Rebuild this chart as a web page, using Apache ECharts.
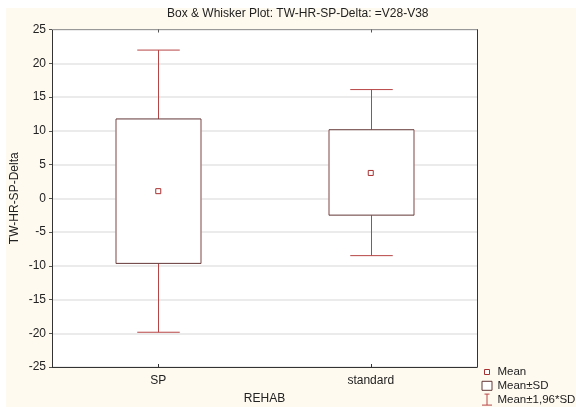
<!DOCTYPE html>
<html>
<head>
<meta charset="utf-8">
<script src="https://cdn.jsdelivr.net/npm/echarts@6/dist/echarts.min.js"></script>
<style>
html,body{margin:0;padding:0;background:#fff;}
#wrap{position:relative;width:576px;height:407px;background:#fff;overflow:hidden;}
#bg{position:absolute;left:6px;top:8px;right:0;bottom:0;background:#fffaf0;}
#chart{position:absolute;left:0;top:0;width:576px;height:407px;}
</style>
</head>
<body>
<div id="wrap"><div id="bg"></div><div id="chart"></div></div>
<script>
var titleText = 'Box & Whisker Plot: TW-HR-SP-Delta: =V28-V38';
var categories = ['SP', 'standard'];
var means = [1.05, 3.75];
var sdLow = [-9.65, -2.5];
var sdHigh = [11.75, 10.15];
var ciLow = [-19.85, -8.5];
var ciHigh = [21.95, 16.1];
var legendNames = ['Mean', 'Mean±SD', 'Mean±1,96*SD'];
var yTicks = { min: -25, max: 25, interval: 5 };

var FONT = "'Liberation Sans', Arial, sans-serif";
var whiskerRows = categories.map(function (c, i) { return [i, ciLow[i], ciHigh[i], sdLow[i], sdHigh[i]]; });
var boxRows = categories.map(function (c, i) { return [i, sdLow[i], sdHigh[i]]; });
var meanRows = categories.map(function (c, i) { return [i, means[i]]; });

var WHISK = '#b84545';
var BOXDARK = '#633636';
var BOXSIDE = '#ae8a8a';

var chart = echarts.init(document.getElementById('chart'), null, { renderer: 'canvas' });
chart.setOption({
  animation: false,
  textStyle: { fontFamily: FONT },
  title: {
    text: titleText, left: 167, top: 8, padding: 0,
    textStyle: { fontSize: 12, fontWeight: 'normal', color: '#222', fontFamily: FONT }
  },
  grid: { left: 52, top: 29.5, right: 99, bottom: 40, show: true, backgroundColor: '#fff', borderWidth: 0,
          containLabel: false, outerBoundsMode: 'none' },
  legend: {
    orient: 'vertical', left: 481, top: 365.5, padding: 0,
    itemWidth: 11, itemHeight: 12, itemGap: 0.8,
    selectedMode: false,
    textStyle: { fontSize: 11.5, color: '#222', fontFamily: FONT, lineHeight: 12 },
    data: [
      { name: legendNames[0], icon: 'path://M0,0L0,0M11,12L11,12M3,3.5h5v5h-5z',
        itemStyle: { color: '#fff', borderColor: '#a83030', borderWidth: 1 } },
      { name: legendNames[1], icon: 'path://M0,0L0,0M11,12L11,12M0.5,1.5h10v9h-10z',
        itemStyle: { color: '#fff', borderColor: BOXDARK, borderWidth: 1 } },
      { name: legendNames[2], icon: 'path://M0,0L0,0M11,12L11,12M3,0.5H8M5.5,0.5V11.5M0.5,11.5H10.5',
        itemStyle: { color: 'rgba(0,0,0,0)', borderColor: WHISK, borderWidth: 1 } }
    ]
  },
  xAxis: [{
    type: 'category', data: categories, position: 'bottom',
    axisLine: { onZero: false, lineStyle: { color: '#333', width: 1 } },
    axisTick: { show: true, inside: true, alignWithLabel: true, length: 3, lineStyle: { color: '#333' } },
    axisLabel: { fontSize: 12, color: '#222', margin: 8, fontFamily: FONT },
    splitLine: { show: false },
    name: 'REHAB', nameLocation: 'middle', nameGap: 26, nameMoveOverlap: false,
    nameTextStyle: { fontSize: 12, color: '#222', fontFamily: FONT }
  }, {
    type: 'category', data: categories, position: 'top',
    axisLine: { onZero: false, lineStyle: { color: '#999', width: 1 } },
    axisTick: { show: true, inside: true, alignWithLabel: true, length: 3, lineStyle: { color: '#555' } },
    axisLabel: { show: false }, splitLine: { show: false }
  }],
  yAxis: [{
    type: 'value', min: yTicks.min, max: yTicks.max, interval: yTicks.interval,
    axisLine: { show: true, onZero: false, lineStyle: { color: '#333', width: 1 } },
    axisTick: { show: true, length: 3, lineStyle: { color: '#555' } },
    axisLabel: { fontSize: 12, color: '#222', margin: 6, fontFamily: FONT },
    splitLine: { show: true, lineStyle: { color: '#e4e4e4', width: 1.5 } },
    name: 'TW-HR-SP-Delta', nameLocation: 'middle', nameGap: 31, nameRotate: 90, nameMoveOverlap: false,
    nameTextStyle: { fontSize: 12, color: '#222', fontFamily: FONT }
  }, {
    type: 'value', min: yTicks.min, max: yTicks.max, interval: yTicks.interval, position: 'right',
    axisLine: { show: true, onZero: false, lineStyle: { color: '#333', width: 1 } },
    axisTick: { show: false }, axisLabel: { show: false }, splitLine: { show: false }
  }],
  series: [{
    name: legendNames[2], type: 'custom', data: whiskerRows,
    encode: { x: 0, y: [1, 2, 3, 4] },
    renderItem: function (params, api) {
      var i = api.value(0);
      var bw = api.size([1, 0])[0];
      var half = bw * 0.1;
      var pHi = api.coord([i, api.value(2)]);
      var pSdHi = api.coord([i, api.value(4)]);
      var pLo = api.coord([i, api.value(1)]);
      var pSdLo = api.coord([i, api.value(3)]);
      var x = Math.round(pHi[0]) + 0.5;
      var st = { stroke: WHISK, lineWidth: 1, fill: null };
      return { type: 'group', children: [
        { type: 'line', shape: { x1: x, y1: pHi[1], x2: x, y2: pSdHi[1] }, style: st },
        { type: 'line', shape: { x1: x, y1: pSdLo[1], x2: x, y2: pLo[1] }, style: st },
        { type: 'line', shape: { x1: x - half, y1: pHi[1], x2: x + half, y2: pHi[1] }, style: st },
        { type: 'line', shape: { x1: x - half, y1: pLo[1], x2: x + half, y2: pLo[1] }, style: st }
      ] };
    }
  }, {
    name: legendNames[1], type: 'custom', data: boxRows,
    encode: { x: 0, y: [1, 2] },
    renderItem: function (params, api) {
      var i = api.value(0);
      var bw = api.size([1, 0])[0];
      var half = bw * 0.2;
      var pLo = api.coord([i, api.value(1)]);
      var pHi = api.coord([i, api.value(2)]);
      var cx = Math.round(pLo[0]) + 0.5;
      var x1 = cx - half, x2 = cx + half;
      return { type: 'group', children: [
        { type: 'rect', shape: { x: x1, y: pHi[1], width: x2 - x1, height: pLo[1] - pHi[1] }, style: { fill: '#fff', stroke: null } },
        { type: 'line', shape: { x1: x1, y1: pHi[1], x2: x1, y2: pLo[1] }, style: { stroke: BOXSIDE, lineWidth: 1.6 } },
        { type: 'line', shape: { x1: x2, y1: pHi[1], x2: x2, y2: pLo[1] }, style: { stroke: BOXSIDE, lineWidth: 1.6 } },
        { type: 'line', shape: { x1: x1, y1: pHi[1], x2: x2, y2: pHi[1] }, style: { stroke: BOXDARK, lineWidth: 1 } },
        { type: 'line', shape: { x1: x1, y1: pLo[1], x2: x2, y2: pLo[1] }, style: { stroke: BOXDARK, lineWidth: 1 } }
      ] };
    }
  }, {
    name: legendNames[0], type: 'scatter', data: meanRows,
    symbol: 'rect', symbolSize: 5,
    itemStyle: { color: '#fff', borderColor: '#a83030', borderWidth: 1, opacity: 1 }
  }]
});
</script>
</body>
</html>
